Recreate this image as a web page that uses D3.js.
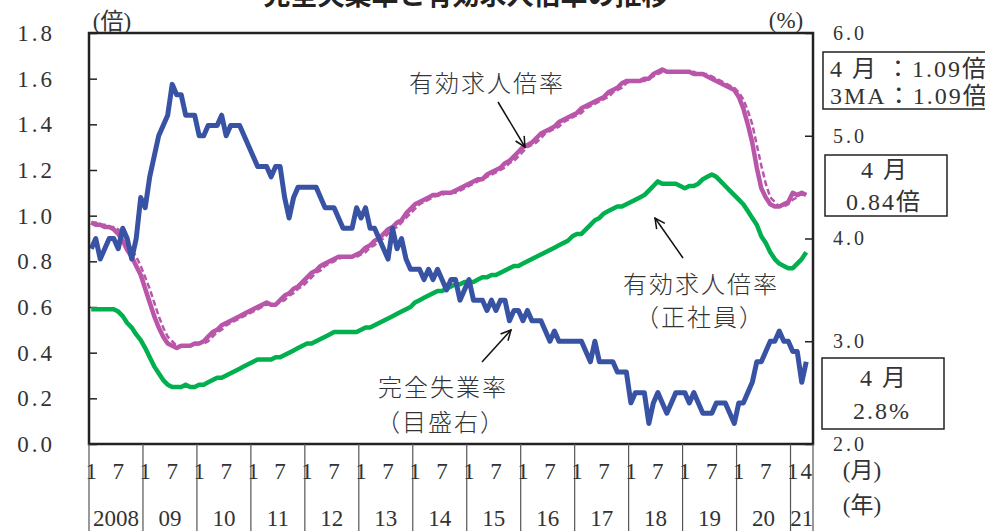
<!DOCTYPE html>
<html>
<head>
<meta charset="utf-8">
<script src="https://cdn.jsdelivr.net/npm/d3@7"></script>
<style>
  body { margin: 0; background: #fff; }
  svg { display: block; }
  text { font-family: "Liberation Serif", "Noto Sans CJK JP", serif; fill: #333; }
</style>
</head>
<body>
<div id="vis"></div>
<script>
// year labels under the axis (one per year block)
var years = ['2008', '09', '10', '11', '12', '13', '14', '15', '16', '17', '18', '19', '20', '21'];
// month tick labels inside each year block
var monthTicks = [1, 7];
var lastMonthTicks = [1, 4];

// 完全失業率 (%), Jan 2008 - Apr 2021, right axis
var unemp = [
  3.9, 4.0, 3.8, 3.9, 4.0, 4.0, 3.9, 4.1, 4.0, 3.8, 4.0, 4.4,
  4.3, 4.6, 4.8, 5.0, 5.1, 5.2, 5.5, 5.4, 5.4, 5.2, 5.2, 5.2,
  5.0, 5.0, 5.1, 5.1, 5.1, 5.2, 5.0, 5.1, 5.1, 5.1, 5.0, 4.9,
  4.8, 4.7, 4.7, 4.7, 4.6, 4.7, 4.7, 4.4, 4.2, 4.4, 4.5, 4.5,
  4.5, 4.5, 4.5, 4.4, 4.3, 4.3, 4.3, 4.2, 4.1, 4.1, 4.1, 4.3,
  4.2, 4.3, 4.1, 4.1, 4.0, 3.9, 3.8, 4.1, 3.9, 4.0, 3.8, 3.7,
  3.7, 3.7, 3.6, 3.7, 3.6, 3.7, 3.6, 3.5, 3.6, 3.6, 3.4, 3.5,
  3.6, 3.4, 3.4, 3.4, 3.3, 3.4, 3.3, 3.4, 3.4, 3.2, 3.3, 3.3,
  3.2, 3.3, 3.2, 3.2, 3.2, 3.1, 3.0, 3.1, 3.0, 3.0, 3.0, 3.0,
  3.0, 3.0, 2.9, 2.8, 3.0, 2.8, 2.8, 2.8, 2.8, 2.7, 2.7, 2.7,
  2.4, 2.5, 2.5, 2.5, 2.2, 2.4, 2.5, 2.4, 2.3, 2.4, 2.5, 2.5,
  2.5, 2.4, 2.5, 2.4, 2.3, 2.3, 2.3, 2.4, 2.4, 2.4, 2.3, 2.2,
  2.4, 2.4, 2.5, 2.6, 2.8, 2.8, 2.9, 3.0, 3.0, 3.1, 3.0, 3.0,
  2.9, 2.9, 2.6, 2.8
];

// 有効求人倍率 (倍), left axis
var ratio = [
  0.97, 0.96, 0.96, 0.95, 0.95, 0.94, 0.92, 0.89, 0.85, 0.82, 0.78, 0.74,
  0.68, 0.62, 0.56, 0.51, 0.47, 0.44, 0.43, 0.42, 0.43, 0.43, 0.43, 0.44,
  0.44, 0.45, 0.47, 0.49, 0.50, 0.52, 0.53, 0.54, 0.55, 0.56, 0.57, 0.58,
  0.59, 0.60, 0.61, 0.62, 0.61, 0.61, 0.63, 0.65, 0.66, 0.68, 0.69, 0.71,
  0.73, 0.75, 0.76, 0.78, 0.79, 0.80, 0.81, 0.82, 0.82, 0.82, 0.82, 0.83,
  0.84, 0.86, 0.87, 0.89, 0.90, 0.92, 0.94, 0.95, 0.97, 0.98, 1.01, 1.03,
  1.05, 1.06, 1.07, 1.08, 1.09, 1.09, 1.10, 1.10, 1.10, 1.11, 1.12, 1.13,
  1.14, 1.15, 1.16, 1.16, 1.18, 1.19, 1.20, 1.21, 1.23, 1.24, 1.26, 1.28,
  1.30, 1.31, 1.32, 1.34, 1.36, 1.37, 1.38, 1.39, 1.41, 1.42, 1.43, 1.44,
  1.45, 1.47, 1.48, 1.49, 1.50, 1.51, 1.52, 1.54, 1.55, 1.56, 1.58, 1.59,
  1.59, 1.59, 1.59, 1.60, 1.60, 1.62, 1.63, 1.64, 1.63, 1.63, 1.63, 1.63,
  1.63, 1.63, 1.62, 1.62, 1.62, 1.61, 1.60, 1.59, 1.58, 1.57, 1.56, 1.55,
  1.52, 1.47, 1.40, 1.32, 1.21, 1.12, 1.08, 1.05, 1.04, 1.04, 1.05, 1.06,
  1.10, 1.09, 1.10, 1.09
];

// 有効求人倍率 3MA (dashed)
var ratio3ma = [
  0.97, 0.97, 0.96, 0.96, 0.95, 0.95, 0.94, 0.92, 0.89, 0.85, 0.82, 0.78,
  0.73, 0.68, 0.62, 0.56, 0.51, 0.47, 0.45, 0.43, 0.43, 0.43, 0.43, 0.43,
  0.44, 0.44, 0.45, 0.47, 0.49, 0.50, 0.52, 0.53, 0.54, 0.55, 0.56, 0.57,
  0.58, 0.59, 0.60, 0.61, 0.61, 0.61, 0.62, 0.63, 0.65, 0.66, 0.68, 0.69,
  0.71, 0.73, 0.75, 0.76, 0.78, 0.79, 0.80, 0.81, 0.82, 0.82, 0.82, 0.82,
  0.83, 0.84, 0.86, 0.87, 0.89, 0.90, 0.92, 0.94, 0.95, 0.97, 0.99, 1.01,
  1.03, 1.05, 1.06, 1.07, 1.08, 1.09, 1.09, 1.10, 1.10, 1.10, 1.11, 1.12,
  1.13, 1.14, 1.15, 1.16, 1.17, 1.18, 1.19, 1.20, 1.21, 1.23, 1.24, 1.26,
  1.28, 1.30, 1.31, 1.32, 1.34, 1.36, 1.37, 1.38, 1.39, 1.41, 1.42, 1.43,
  1.44, 1.45, 1.47, 1.48, 1.49, 1.50, 1.51, 1.52, 1.54, 1.55, 1.56, 1.58,
  1.59, 1.59, 1.59, 1.59, 1.60, 1.61, 1.62, 1.63, 1.63, 1.63, 1.63, 1.63,
  1.63, 1.63, 1.63, 1.62, 1.62, 1.62, 1.61, 1.60, 1.59, 1.58, 1.57, 1.56,
  1.54, 1.51, 1.46, 1.40, 1.31, 1.22, 1.14, 1.08, 1.06, 1.04, 1.04, 1.05,
  1.07, 1.08, 1.10, 1.09
];

// 有効求人倍率（正社員）
var ratioRegular = [
  0.59, 0.59, 0.59, 0.59, 0.59, 0.59, 0.58, 0.56, 0.53, 0.51, 0.48, 0.455,
  0.42, 0.38, 0.34, 0.31, 0.28, 0.26, 0.25, 0.25, 0.25, 0.26, 0.25, 0.25,
  0.26, 0.26, 0.27, 0.28, 0.29, 0.29, 0.30, 0.31, 0.32, 0.33, 0.34, 0.35,
  0.36, 0.37, 0.37, 0.37, 0.37, 0.38, 0.38, 0.39, 0.40, 0.41, 0.42, 0.43,
  0.44, 0.44, 0.45, 0.46, 0.47, 0.48, 0.49, 0.49, 0.49, 0.49, 0.49, 0.49,
  0.50, 0.51, 0.51, 0.52, 0.53, 0.54, 0.55, 0.56, 0.57, 0.58, 0.59, 0.60,
  0.62, 0.63, 0.64, 0.65, 0.66, 0.67, 0.67, 0.68, 0.69, 0.70, 0.70, 0.71,
  0.71, 0.71, 0.72, 0.73, 0.73, 0.74, 0.74, 0.75, 0.76, 0.77, 0.78, 0.78,
  0.79, 0.80, 0.81, 0.82, 0.83, 0.84, 0.85, 0.86, 0.87, 0.88, 0.89, 0.91,
  0.92, 0.92, 0.94, 0.96, 0.98, 0.99, 1.01, 1.02, 1.03, 1.04, 1.04, 1.05,
  1.06, 1.07, 1.08, 1.09, 1.11, 1.13, 1.15, 1.14, 1.14, 1.14, 1.14, 1.13,
  1.12, 1.13, 1.13, 1.14, 1.16, 1.17, 1.18, 1.17, 1.15, 1.13, 1.11, 1.09,
  1.07, 1.05, 1.02, 0.99, 0.96, 0.91, 0.88, 0.84, 0.81, 0.79, 0.78, 0.77,
  0.77, 0.79, 0.81, 0.84
];

var W = 985, H = 531;
// plot frame (window.top is reserved, so keep these in an object)
var frame = { left: 89, right: 813, top: 33, bottom: 444 };

var svg = d3.select('#vis').append('svg')
  .attr('width', W)
  .attr('height', H);

// 161 month slots across the frame, each point in the middle of its slot
var x = d3.scaleLinear().domain([0, 161]).range([frame.left, frame.right]);
var yL = d3.scaleLinear().domain([0, 1.8]).range([frame.bottom, frame.top]);
var yR = d3.scaleLinear().domain([2, 6]).range([frame.bottom, frame.top]);

// title (cut by the top edge)
svg.append('text')
  .attr('x', 466)
  .attr('y', 5)
  .attr('text-anchor', 'middle')
  .attr('font-size', 27)
  .attr('font-weight', 'bold')
  .style('fill', '#222')
  .text('完全失業率と有効求人倍率の推移');

// left axis
var axL = svg.append('g')
  .attr('transform', 'translate(' + frame.left + ',0)')
  .call(d3.axisLeft(yL).tickValues(d3.range(0, 1.81, 0.2))
    .tickSizeInner(-8).tickSizeOuter(0).tickPadding(34)
    .tickFormat(d3.format('.1f')));
axL.select('.domain').remove();
axL.selectAll('line').attr('stroke', '#222').attr('stroke-width', 1.5);
axL.selectAll('text')
  .attr('font-size', 23)
  .attr('font-family', null)
  .style('letter-spacing', '3px');

// right axis
var axR = svg.append('g')
  .attr('transform', 'translate(' + frame.right + ',0)')
  .call(d3.axisRight(yR).ticks(4)
    .tickSizeInner(-8).tickSizeOuter(0).tickPadding(20)
    .tickFormat(d3.format('.1f')));
axR.select('.domain').remove();
axR.selectAll('line').attr('stroke', '#222').attr('stroke-width', 1.5);
axR.selectAll('text')
  .attr('font-size', 20)
  .attr('font-family', null)
  .style('letter-spacing', '3px');

// unit labels
svg.append('text').attr('x', 112).attr('y', 21).attr('text-anchor', 'middle')
  .attr('dominant-baseline', 'central').attr('font-size', 23).text('(倍)');
svg.append('text').attr('x', 786).attr('y', 20).attr('text-anchor', 'middle')
  .attr('dominant-baseline', 'central').attr('font-size', 23).text('(%)');

// series
var line = function (yScale) {
  return d3.line()
    .x(function (d, i) { return x(i + 0.5); })
    .y(function (d) { return yScale(d); });
};

svg.append('path')
  .datum(ratioRegular)
  .attr('d', line(yL))
  .attr('fill', 'none')
  .attr('stroke', '#00b04f')
  .attr('stroke-width', 4.5)
  .attr('stroke-linejoin', 'round');

svg.append('path')
  .datum(ratio)
  .attr('d', line(yL))
  .attr('fill', 'none')
  .attr('stroke', '#b956a9')
  .attr('stroke-width', 4.5)
  .attr('stroke-linejoin', 'round');

svg.append('path')
  .datum(ratio3ma)
  .attr('d', line(yL))
  .attr('fill', 'none')
  .attr('stroke', '#b956a9')
  .attr('stroke-width', 2.5)
  .attr('stroke-dasharray', '6,3');

svg.append('path')
  .datum(unemp)
  .attr('d', line(yR))
  .attr('fill', 'none')
  .attr('stroke', '#3953a4')
  .attr('stroke-width', 5)
  .attr('stroke-linejoin', 'round');

// frame
svg.append('rect')
  .attr('x', frame.left).attr('y', frame.top)
  .attr('width', frame.right - frame.left).attr('height', frame.bottom - frame.top)
  .attr('fill', 'none')
  .attr('stroke', '#222')
  .attr('stroke-width', 2.5);

// x axis: year blocks below the frame
var bounds = years.map(function (d, k) { return x(k * 12); }).concat([frame.right]);
svg.selectAll('.yearline')
  .data(bounds)
  .enter().append('line')
  .attr('class', 'yearline')
  .attr('x1', function (d) { return d; })
  .attr('x2', function (d) { return d; })
  .attr('y1', frame.bottom)
  .attr('y2', H)
  .attr('stroke', '#555')
  .attr('stroke-width', 1.2);

years.forEach(function (yr, k) {
  var ticks = k === years.length - 1 ? lastMonthTicks : monthTicks;
  ticks.forEach(function (m) {
    svg.append('text')
      .attr('x', x(k * 12 + m - 0.5))
      .attr('y', 471)
      .attr('text-anchor', 'middle')
      .attr('dominant-baseline', 'central')
      .attr('font-size', 23)
      .text(m);
  });
  svg.append('text')
    .attr('x', (bounds[k] + bounds[k + 1]) / 2)
    .attr('y', 518)
    .attr('text-anchor', 'middle')
    .attr('dominant-baseline', 'central')
    .attr('font-size', 23)
    .text(yr);
});

svg.append('text').attr('x', 862).attr('y', 470).attr('text-anchor', 'middle')
  .attr('dominant-baseline', 'central').attr('font-size', 23).text('(月)');
svg.append('text').attr('x', 862).attr('y', 505).attr('text-anchor', 'middle')
  .attr('dominant-baseline', 'central').attr('font-size', 23).text('(年)');

// annotations
svg.append('defs').append('marker')
  .attr('id', 'arrow')
  .attr('viewBox', '0 0 12 12')
  .attr('refX', 11).attr('refY', 6)
  .attr('markerWidth', 12).attr('markerHeight', 12)
  .attr('markerUnits', 'userSpaceOnUse')
  .attr('orient', 'auto')
  .append('path')
  .attr('d', 'M1,1 L11,6 L1,11')
  .attr('fill', 'none')
  .attr('stroke', '#111')
  .attr('stroke-width', 1.5);

var arrows = [
  [498, 102, 525, 147],
  [683, 258, 655, 218],
  [482, 362, 511, 330]
];
svg.selectAll('.arrow')
  .data(arrows)
  .enter().append('line')
  .attr('class', 'arrow')
  .attr('x1', function (d) { return d[0]; })
  .attr('y1', function (d) { return d[1]; })
  .attr('x2', function (d) { return d[2]; })
  .attr('y2', function (d) { return d[3]; })
  .attr('stroke', '#111')
  .attr('stroke-width', 1.5)
  .attr('marker-end', 'url(#arrow)');

var notes = [
  ['有効求人倍率', 487, 84],
  ['有効求人倍率', 701, 285],
  ['（正社員）', 700, 318],
  ['完全失業率', 443, 388],
  ['（目盛右）', 441, 423]
];
svg.selectAll('.note')
  .data(notes)
  .enter().append('text')
  .attr('class', 'note')
  .attr('x', function (d) { return d[1]; })
  .attr('y', function (d) { return d[2]; })
  .attr('text-anchor', 'middle')
  .attr('dominant-baseline', 'central')
  .attr('font-size', 24)
  .attr('font-weight', 300)
  .style('letter-spacing', '2px')
  .text(function (d) { return d[0]; });

// value boxes on the right
var boxes = [
  { x: 823, y: 52, w: 175, h: 57 },
  { x: 825, y: 155, w: 122, h: 61 },
  { x: 822, y: 358, w: 122, h: 71 }
];
svg.selectAll('.box')
  .data(boxes)
  .enter().append('rect')
  .attr('class', 'box')
  .attr('x', function (d) { return d.x; })
  .attr('y', function (d) { return d.y; })
  .attr('width', function (d) { return d.w; })
  .attr('height', function (d) { return d.h; })
  .attr('fill', '#fff')
  .attr('stroke', '#222')
  .attr('stroke-width', 1.5);

var boxTexts = [
  ['4 月 ：1.09倍', 830, 69, 'start'],
  ['3MA：1.09倍', 830, 96, 'start'],
  ['4 月', 885, 170, 'middle'],
  ['0.84倍', 884, 202, 'middle'],
  ['4 月', 884, 378, 'middle'],
  ['2.8%', 882, 411, 'middle']
];
svg.selectAll('.boxtext')
  .data(boxTexts)
  .enter().append('text')
  .attr('class', 'boxtext')
  .attr('x', function (d) { return d[1]; })
  .attr('y', function (d) { return d[2]; })
  .attr('text-anchor', function (d) { return d[3]; })
  .attr('dominant-baseline', 'central')
  .attr('font-size', 24)
  .style('letter-spacing', '2px')
  .text(function (d) { return d[0]; });
</script>
</body>
</html>
